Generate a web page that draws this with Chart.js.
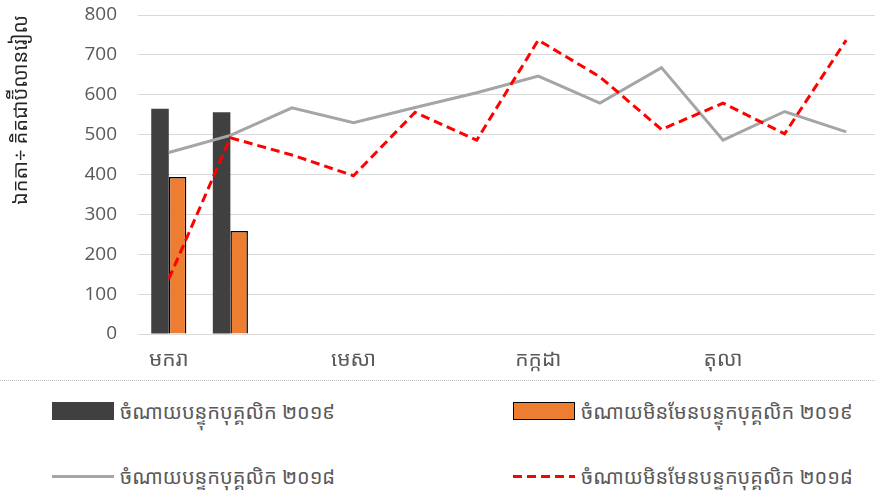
<!DOCTYPE html>
<html>
<head>
<meta charset="utf-8">
<script src="https://cdn.jsdelivr.net/npm/chart.js@4.4.1/dist/chart.umd.min.js"></script>
<style>
  html, body { margin: 0; padding: 0; background: #fff; }
  body { width: 875px; height: 491px; overflow: hidden; position: relative;
         font-family: "Noto Sans Khmer", "Khmer OS", "Noto Sans", "Open Sans", sans-serif; }
  .chart-box { position: absolute; left: 0; top: 0; width: 880px; height: 378px; }
  .sep { position: absolute; left: 0; top: 380px; width: 875px; border-top: 1px dotted #bfbfbf; }
  #legend { position: absolute; left: 52px; top: 381px; display: grid;
            grid-template-columns: 461px 360px; grid-template-rows: 60px 60px; row-gap: 5px; }
  .item { display: flex; align-items: center; color: #595959; font-size: 20px; white-space: nowrap; }
  .mark { width: 62px; height: 18px; margin-right: 6px; box-sizing: border-box; flex: none; }
  .mark.line { height: 3px; }
</style>
</head>
<body>
<div class="chart-box"><canvas id="chart"></canvas></div>
<div class="sep"></div>
<div id="legend"></div>

<script>
// ---------- Data ----------
const months = ['មករា', 'កុម្ភៈ', 'មីនា', 'មេសា', 'ឧសភា', 'មិថុនា',
                'កក្កដា', 'សីហា', 'កញ្ញា', 'តុលា', 'វិច្ឆិកា', 'ធ្នូ'];
const staff2019 = [565, 556, null, null, null, null, null, null, null, null, null, null];
const nonStaff2019 = [394, 258, null, null, null, null, null, null, null, null, null, null];
const staff2018 = [455, 498, 567, 530, 568, 605, 647, 579, 668, 486, 558, 507];
const nonStaff2018 = [138, 492, 449, 397, 556, 486, 737, 645, 513, 579, 502, 737];
const yTicks = [0, 100, 200, 300, 400, 500, 600, 700, 800];

const names = ['ចំណាយបន្ទុកបុគ្គលិក ២០១៩', 'ចំណាយមិនមែនបន្ទុកបុគ្គលិក ២០១៩',
               'ចំណាយបន្ទុកបុគ្គលិក ២០១៨', 'ចំណាយមិនមែនបន្ទុកបុគ្គលិក ២០១៨'];
const yTitle = 'ឯកតា÷ គិតជាប៊ីលានរៀល';

const khmerFont = '"Noto Sans Khmer", "Khmer OS", "Noto Sans", sans-serif';

// ---------- Chart ----------
const ctx = document.getElementById('chart').getContext('2d');
const chart = new Chart(ctx, {
  type: 'bar',
  data: {
    labels: months,
    datasets: [
      { label: names[0], data: staff2019, backgroundColor: '#404040', borderWidth: 0, order: 2 },
      { label: names[1], data: nonStaff2019, backgroundColor: '#ed7d31', borderColor: '#000',
        borderWidth: 1.5, order: 2 },
      { type: 'line', label: names[2], data: staff2018, borderColor: '#a5a5a5', backgroundColor: '#a5a5a5',
        borderWidth: 3, pointRadius: 0, tension: 0, order: 1 },
      { type: 'line', label: names[3], data: nonStaff2018, borderColor: '#ff0000', backgroundColor: '#ff0000',
        borderWidth: 3, borderDash: [9, 5], pointRadius: 0, tension: 0, order: 0 }
    ]
  },
  options: {
    responsive: true,
    maintainAspectRatio: false,
    animation: false,
    categoryPercentage: 0.57,
    barPercentage: 1.0,
    layout: { padding: { top: 15, right: 3, left: 0, bottom: 0 } },
    plugins: { legend: { display: false }, tooltip: { enabled: false } },
    scales: {
      x: {
        grid: { display: false },
        border: { color: '#d9d9d9', width: 1 },
        ticks: {
          autoSkip: false, maxRotation: 0, padding: 5, color: '#595959',
          font: { family: khmerFont, size: 21 },
          callback: (v, i) => (i % 3 === 0 ? months[i] : '')
        },
        afterFit: (s) => { s.height = 44; }
      },
      y: {
        min: 0, max: 800,
        afterBuildTicks: (s) => { s.ticks = yTicks.map(v => ({ value: v })); },
        // invisible tick marks give the label gap without extra top/bottom padding
        grid: { color: '#d9d9d9', lineWidth: 1, drawTicks: true, tickLength: 21, tickColor: 'rgba(0,0,0,0)' },
        border: { display: false },
        ticks: { padding: 0, color: '#595959', font: { family: '"Open Sans", sans-serif', size: 19 } },
        title: { display: true, text: yTitle, color: '#262626', align: 'end',
                 padding: { top: 9, bottom: 0 }, font: { family: khmerFont, size: 20 } },
        afterFit: (s) => { s.width = 138; }
      }
    }
  }
});

// ---------- HTML legend (two columns like the original) ----------
const legendEl = document.getElementById('legend');
chart.data.datasets.forEach(ds => {
  const item = document.createElement('div');
  item.className = 'item';
  const mark = document.createElement('span');
  mark.className = 'mark';
  if (ds.type === 'line') {
    mark.classList.add('line');
    if (ds.borderDash) {
      const [d, g] = ds.borderDash;
      mark.style.background = `repeating-linear-gradient(to right, ${ds.borderColor} 0 ${d}px, transparent ${d}px ${d + g}px)`;
    } else {
      mark.style.background = ds.borderColor;
    }
  } else {
    mark.style.background = ds.backgroundColor;
    if (ds.borderWidth) mark.style.border = `${ds.borderWidth}px solid ${ds.borderColor}`;
  }
  const txt = document.createElement('span');
  txt.textContent = ds.label;
  item.appendChild(mark);
  item.appendChild(txt);
  legendEl.appendChild(item);
});
</script>
</body>
</html>
